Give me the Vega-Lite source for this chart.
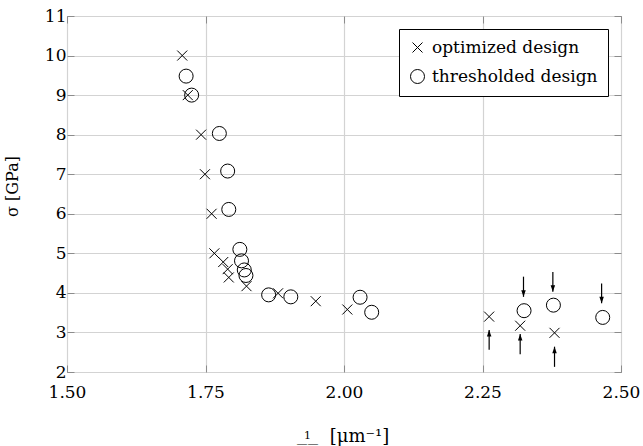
{
  "$schema": "https://vega.github.io/schema/vega-lite/v6.json",
  "width": 554,
  "height": 356,
  "autosize": {"type": "none"},
  "padding": {"left": 67, "top": 16, "right": 22, "bottom": 74},
  "background": "white",
  "config": {
    "view": {"stroke": "black", "strokeWidth": 1},
    "font": "DejaVu Serif",
    "text": {"font": "DejaVu Serif"},
    "axis": {
      "labelFont": "DejaVu Serif",
      "titleFont": "DejaVu Serif",
      "labelColor": "black",
      "titleColor": "black",
      "titleFontWeight": "normal",
      "labelFlush": false,
      "labelOverlap": false,
      "domain": false,
      "tickColor": "#8c8c8c",
      "tickWidth": 1,
      "gridColor": "#d3d3d3",
      "gridWidth": 1.2
    },
    "legend": {
      "labelFont": "DejaVu Serif",
      "labelFontSize": 17,
      "labelColor": "black",
      "labelLimit": 400
    }
  },
  "datasets": {
    "points": [
      {"x": 1.708, "y": 10.0, "series": "optimized design"},
      {"x": 1.718, "y": 9.0, "series": "optimized design"},
      {"x": 1.742, "y": 8.0, "series": "optimized design"},
      {"x": 1.749, "y": 7.0, "series": "optimized design"},
      {"x": 1.761, "y": 6.0, "series": "optimized design"},
      {"x": 1.766, "y": 5.0, "series": "optimized design"},
      {"x": 1.782, "y": 4.78, "series": "optimized design"},
      {"x": 1.790, "y": 4.6, "series": "optimized design"},
      {"x": 1.792, "y": 4.39, "series": "optimized design"},
      {"x": 1.824, "y": 4.17, "series": "optimized design"},
      {"x": 1.881, "y": 3.99, "series": "optimized design"},
      {"x": 1.949, "y": 3.79, "series": "optimized design"},
      {"x": 2.006, "y": 3.58, "series": "optimized design"},
      {"x": 2.262, "y": 3.40, "series": "optimized design"},
      {"x": 2.318, "y": 3.17, "series": "optimized design"},
      {"x": 2.380, "y": 2.99, "series": "optimized design"},
      {"x": 1.715, "y": 9.48, "series": "thresholded design"},
      {"x": 1.725, "y": 9.0, "series": "thresholded design"},
      {"x": 1.775, "y": 8.03, "series": "thresholded design"},
      {"x": 1.790, "y": 7.08, "series": "thresholded design"},
      {"x": 1.792, "y": 6.11, "series": "thresholded design"},
      {"x": 1.812, "y": 5.10, "series": "thresholded design"},
      {"x": 1.815, "y": 4.81, "series": "thresholded design"},
      {"x": 1.820, "y": 4.58, "series": "thresholded design"},
      {"x": 1.823, "y": 4.44, "series": "thresholded design"},
      {"x": 1.864, "y": 3.95, "series": "thresholded design"},
      {"x": 1.904, "y": 3.90, "series": "thresholded design"},
      {"x": 2.029, "y": 3.89, "series": "thresholded design"},
      {"x": 2.050, "y": 3.51, "series": "thresholded design"},
      {"x": 2.325, "y": 3.55, "series": "thresholded design"},
      {"x": 2.378, "y": 3.69, "series": "thresholded design"},
      {"x": 2.467, "y": 3.38, "series": "thresholded design"}
    ],
    "arrows": [
      {"x": 2.262, "tail": 2.56, "tip": 3.06, "dir": "up"},
      {"x": 2.318, "tail": 2.45, "tip": 2.96, "dir": "up"},
      {"x": 2.380, "tail": 2.13, "tip": 2.64, "dir": "up"},
      {"x": 2.324, "tail": 4.41, "tip": 3.90, "dir": "down"},
      {"x": 2.377, "tail": 4.53, "tip": 4.03, "dir": "down"},
      {"x": 2.465, "tail": 4.24, "tip": 3.74, "dir": "down"}
    ]
  },
  "layer": [
    {
      "data": {"name": "points"},
      "mark": {"type": "point", "filled": false, "stroke": "black", "strokeWidth": 1, "opacity": 1},
      "encoding": {
        "x": {
          "field": "x", "type": "quantitative",
          "scale": {"domain": [1.5, 2.5], "nice": false, "zero": false},
          "axis": {
            "orient": "bottom", "values": [1.5, 1.75, 2, 2.25, 2.5], "format": ".2f",
            "grid": true, "tickSize": -7, "labelFontSize": 17, "labelPadding": 19,
            "title": "[μm⁻¹]", "titleFontSize": 18, "titleX": 292, "titleY": 69,
            "titleBaseline": "alphabetic", "titleAlign": "center"
          }
        },
        "y": {
          "field": "y", "type": "quantitative",
          "scale": {"domain": [2, 11], "nice": false, "zero": false},
          "axis": {
            "orient": "left", "values": [2, 3, 4, 5, 6, 7, 8, 9, 10, 11],
            "grid": true, "tickSize": -7, "labelFontSize": 17, "labelPadding": 8,
            "title": "σ [GPa]", "titleFontSize": 16, "titleX": -55, "titleY": 170,
            "titleAngle": -90, "titleBaseline": "middle", "titleAlign": "center"
          }
        },
        "shape": {
          "field": "series", "type": "nominal",
          "scale": {"domain": ["optimized design", "thresholded design"], "range": ["M-1,-1L1,1M-1,1L1,-1", "circle"]},
          "legend": {
            "title": null, "orient": "top-right", "offset": 13,
            "strokeColor": "black", "fillColor": "white", "padding": 10, "rowPadding": 11,
            "symbolStrokeColor": "black", "symbolStrokeWidth": 1, "labelOffset": 6
          }
        },
        "size": {
          "field": "series", "type": "nominal",
          "scale": {"domain": ["optimized design", "thresholded design"], "range": [100, 196]},
          "legend": {
            "title": null, "orient": "top-right", "offset": 13,
            "strokeColor": "black", "fillColor": "white", "padding": 10, "rowPadding": 11,
            "symbolStrokeColor": "black", "symbolStrokeWidth": 1, "labelOffset": 6
          }
        }
      }
    },
    {
      "data": {"name": "arrows"},
      "mark": {"type": "rule", "color": "black", "strokeWidth": 1.2},
      "encoding": {
        "x": {
          "field": "x", "type": "quantitative",
          "axis": {"orient": "top", "values": [1.5, 1.75, 2, 2.25, 2.5], "labels": false, "title": null, "grid": false, "tickSize": -7}
        },
        "y": {
          "field": "tail", "type": "quantitative",
          "axis": {"orient": "right", "values": [2, 3, 4, 5, 6, 7, 8, 9, 10, 11], "labels": false, "title": null, "grid": false, "tickSize": -7}
        },
        "y2": {"field": "tip"}
      }
    },
    {
      "data": {"name": "arrows"},
      "transform": [{"filter": "datum.dir === 'down'"}],
      "mark": {"type": "point", "shape": "M0,0L-0.45,-1.3L0.45,-1.3Z", "filled": true, "color": "black", "size": 100, "opacity": 1, "strokeWidth": 0},
      "encoding": {
        "x": {
          "field": "x", "type": "quantitative",
          "axis": {
            "orient": "bottom", "labels": false, "ticks": false, "grid": false, "domain": false,
            "title": ["1", "——", "uₒᵤₜ"], "titleFontSize": 11, "titleLineHeight": 8,
            "titleX": 240, "titleY": 66, "titleBaseline": "alphabetic", "titleAlign": "center"
          }
        },
        "y": {"field": "tip", "type": "quantitative", "axis": null}
      }
    },
    {
      "data": {"name": "arrows"},
      "transform": [{"filter": "datum.dir === 'up'"}],
      "mark": {"type": "point", "shape": "M0,0L-0.45,1.3L0.45,1.3Z", "filled": true, "color": "black", "size": 100, "opacity": 1, "strokeWidth": 0},
      "encoding": {
        "x": {"field": "x", "type": "quantitative", "axis": null},
        "y": {"field": "tip", "type": "quantitative", "axis": null}
      }
    }
  ],
  "resolve": {"axis": {"x": "independent", "y": "independent"}}
}
